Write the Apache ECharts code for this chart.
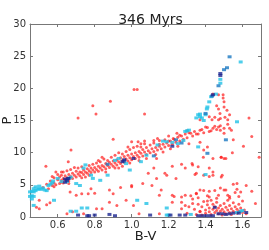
<!DOCTYPE html>
<html><head><meta charset="utf-8">
<script src="https://cdn.jsdelivr.net/npm/echarts@6/dist/echarts.min.js"></script>
<style>html,body{margin:0;padding:0;background:#fff}#c{width:269px;height:250px}</style>
</head><body><div id="c"></div>
<script>
const title = "346 Myrs";
const xTicks = [0.6, 0.8, 1.0, 1.2, 1.4, 1.6];
const yTicks = [0, 5, 10, 15, 20, 25, 30];

const redBand = [[0.52,4.6],[0.54,5.1],[0.55,4.4],[0.56,5.6],[0.57,4.9],[0.58,5.3],[0.58,6.1],[0.59,5.0],[0.60,5.8],[0.60,6.6],[0.61,5.2],[0.61,6.2],[0.62,5.7],[0.62,7.0],[0.63,6.0],[0.63,5.3],[0.64,6.4],[0.64,5.8],[0.65,6.1],[0.65,7.2],[0.66,5.6],[0.66,6.6],[0.67,6.3],[0.67,7.4],[0.68,6.0],[0.68,6.8],[0.69,6.5],[0.70,7.1],[0.70,6.2],[0.71,6.7],[0.71,7.6],[0.72,6.4],[0.72,7.0],[0.73,6.9],[0.73,7.8],[0.74,6.6],[0.74,7.3],[0.75,7.0],[0.75,6.2],[0.76,7.5],[0.76,6.8],[0.77,7.2],[0.77,8.0],[0.78,6.9],[0.78,7.6],[0.79,7.3],[0.79,8.2],[0.80,7.0],[0.80,7.7],[0.81,7.4],[0.81,8.4],[0.82,7.1],[0.82,7.9],[0.83,7.6],[0.83,8.6],[0.84,7.3],[0.84,8.0],[0.85,7.8],[0.85,9.0],[0.86,7.5],[0.86,8.3],[0.87,8.0],[0.87,8.8],[0.88,7.7],[0.88,8.5],[0.89,8.2],[0.89,9.3],[0.90,7.9],[0.90,8.7],[0.91,8.4],[0.91,9.6],[0.92,8.1],[0.92,8.9],[0.93,8.6],[0.93,7.6],[0.94,9.2],[0.94,8.3],[0.95,8.8],[0.95,9.8],[0.96,8.5],[0.96,9.4],[0.97,9.0],[0.97,10.2],[0.98,8.7],[0.98,9.6],[0.99,9.2],[0.99,10.5],[1.00,8.9],[1.00,9.8],[1.01,9.4],[1.01,10.8],[1.02,9.1],[1.02,10.0],[1.03,9.6],[1.03,11.0],[1.04,9.3],[1.04,10.2],[1.05,9.9],[1.05,10.9],[1.06,9.5],[1.06,10.5],[1.07,10.1],[1.08,9.7],[1.08,10.8],[1.09,10.3],[1.10,10.0],[1.10,11.2],[1.11,10.6],[1.12,10.2],[1.12,11.5],[1.13,10.8],[1.14,10.4],[1.15,11.0],[1.15,11.9],[1.16,10.6],[1.17,11.3],[1.18,10.9],[1.18,12.0],[1.19,11.5],[1.20,11.1],[1.21,11.8],[1.22,11.3],[1.23,12.1],[1.24,11.6],[1.25,12.4],[1.26,11.8],[1.27,12.6],[1.28,12.1],[1.29,12.9],[1.30,12.3],[1.31,13.1],[1.33,12.6],[1.34,13.3],[1.36,12.9],[1.38,13.6],[1.39,13.1],[1.41,13.9],[1.43,13.4],[1.45,14.1],[1.46,13.6],[1.48,14.2],[1.50,13.8],[1.52,14.4],[1.54,13.5],
[0.58,4.7],[0.62,6.5],[0.66,5.2],[0.69,7.7],[0.73,6.1],[0.77,6.5],[0.82,8.8],[0.86,7.0],[0.91,7.6],[0.95,7.9],[0.99,8.4],[1.04,8.8],[1.08,9.1],[1.13,9.7],[1.17,10.1],[1.21,10.6],[1.25,11.0],[1.07,11.4],[1.14,12.2],[1.20,12.6],[0.98,10.9],[0.93,10.0],[0.84,9.3]];
const redScatter = [[0.71,15.4],[0.79,17.3],[0.807,16.0],[0.885,18.0],[1.013,19.8],[1.03,19.8],[1.07,16.0],[1.635,15.4],
[1.44,19.1],[1.47,19.0],[1.495,19.0],[1.495,18.5],[1.50,17.9],[1.46,17.3],[1.50,17.1],[1.47,16.8],[1.516,16.6],[1.478,16.1],[1.53,15.9],[1.42,15.6],[1.45,15.5],[1.505,15.5],[1.37,15.1],[1.435,15.1],[1.47,15.1],[1.48,15.3],[1.52,15.1],
[0.536,7.9],[0.657,8.6],[0.672,10.4],[0.57,6.3],[0.59,7.0],[0.63,7.0],[0.62,5.4],[0.50,2.6],[0.50,1.3],[0.485,1.5],[0.558,2.2],[0.54,1.9],[0.667,3.9],[0.70,3.4],[0.73,3.6],[0.68,0.8],[0.65,0.5],[0.765,3.6],[0.80,3.7],[0.78,4.4],[0.88,4.2],[0.90,3.6],[0.94,4.6],[1.0,4.7],[1.0,4.9],
[0.90,12.1],[1.0,11.7],[1.035,11.7],[1.05,11.4],[1.07,11.8],[1.12,11.9],[1.15,11.3],[1.2,11.8],[1.225,12.2],[1.245,13.0],[1.26,12.7],[1.3,13.4],[1.32,13.0],[1.35,12.9],[1.37,13.5],[1.40,14.0],[1.42,13.3],[1.44,13.8],[1.47,14.0],[1.48,13.5],[1.5,13.0],[1.53,13.8],[1.55,12.0],[1.65,12.5],[1.605,11.0],[1.485,9.3],[1.51,9.1],[1.44,9.1],[1.39,10.4],[1.37,11.6],[1.31,11.4],[1.41,10.9],
[1.27,8.2],[1.29,7.6],[1.33,8.1],[1.35,6.8],[1.39,6.5],[1.42,7.6],[1.44,6.5],[1.485,6.2],[1.55,5.1],[1.57,5.2],[1.51,4.2],[1.18,6.8],[1.19,6.5],[1.24,6.0],[1.135,9.1],[1.12,7.6],[1.135,6.0],[1.09,6.8],[1.11,4.9],[1.06,5.2],[1.16,4.2],[1.15,3.4],[1.22,3.4],[1.22,2.3],[1.27,3.1],[1.29,3.4],[1.32,3.3],[1.35,3.6],[1.37,4.2],[1.41,2.5],[1.42,3.1],[1.47,3.4],[1.53,2.9],[1.59,3.9],[1.62,4.9],[1.67,2.1],[1.29,1.8],[1.27,1.3],[1.33,2.1],
[1.01,1.8],[0.97,2.6],[0.92,1.8],[0.88,2.3],[0.84,1.3],[0.81,1.3],[0.74,0.5],[1.04,0.5],[1.37,0.8],[1.15,0.5],
[1.388,9.3],[1.484,9.3],[1.50,9.1],[1.545,10.0],[1.22,7.9],[1.327,8.3],[1.36,7.8],[1.343,6.6],[1.44,7.0],[1.42,6.3],[1.49,6.5],[1.65,4.0],[1.69,9.3],[1.23,3.2],[1.35,3.7],[1.39,4.1],[1.45,4.1],[1.50,4.2],[1.57,4.3],[1.53,3.2],[1.58,3.2]];
const redLow = [[1.34,1.2],[1.35,0.4],[1.36,2.0],[1.37,0.9],[1.38,1.6],[1.38,0.3],[1.39,2.4],[1.40,1.1],[1.40,0.6],[1.41,1.9],[1.42,0.8],[1.42,1.4],[1.43,2.6],[1.43,0.4],[1.44,1.2],[1.44,2.0],[1.45,0.7],[1.45,1.6],[1.46,1.0],[1.46,2.3],[1.47,0.5],[1.47,1.4],[1.48,0.9],[1.48,1.8],[1.49,1.2],[1.49,0.3],[1.50,2.1],[1.50,0.8],[1.51,1.5],[1.51,0.5],[1.52,1.1],[1.52,2.6],[1.53,0.7],[1.53,1.8],[1.54,1.3],[1.54,0.4],[1.55,2.2],[1.55,0.9],[1.56,1.6],[1.57,0.6],[1.57,1.2],[1.58,2.0],[1.58,0.9],[1.59,1.4],[1.60,0.7],[1.60,2.5],[1.61,1.1],[1.62,0.5],[1.36,3.0],[1.41,3.3],[1.46,2.9],[1.52,3.4],[1.56,3.8],[1.48,4.5],[1.42,4.0],[1.33,2.8],[1.31,1.6],[1.30,0.6],[1.27,2.3]];

const cyanPts = [[0.45,3.2],[0.46,3.3],[0.47,3.2],[0.45,3.9],[0.46,4.0],[0.47,3.9],[0.48,4.1],[0.49,4.3],[0.50,4.4],[0.51,4.3],[0.52,4.5],[0.47,4.4],[0.48,4.7],[0.46,2.8],[0.47,1.8],[0.50,4.8],[0.53,4.2],[0.54,4.1],[0.55,4.9],[0.56,5.1],[0.57,5.3],[0.575,5.6],[0.58,2.6],[0.60,6.0],[0.62,5.5],[0.65,5.5],[0.67,6.2],[0.70,5.2],[0.72,4.9],[0.74,7.6],[0.75,8.1],[0.78,6.5],[0.79,6.0],[0.83,5.7],[0.87,6.5],[0.91,8.8],[0.93,9.1],[0.97,8.3],[0.99,7.3],[1.05,8.6],[1.08,9.6],[1.14,11.2],[1.17,11.8],[1.19,11.7],[1.22,11.6],[1.25,11.4],[1.28,11.9],[1.29,13.3],[1.30,13.4],[1.31,13.5],[1.36,10.9],[1.03,2.6],[1.08,2.1],[1.19,1.4],[0.73,1.4],[0.76,1.4],[0.67,0.9],[0.70,0.9],[1.19,0.3],[1.20,0.3],[1.32,0.4],[1.57,0.7],[1.59,0.9],[1.60,1.0],[1.40,6.6],
[1.35,15.4],[1.36,15.9],[1.37,15.6],[1.38,15.4],[1.39,15.0],[1.37,16.0],[1.40,15.9],[1.407,16.8],[1.41,17.1],[1.42,17.9],[1.456,19.1],[1.43,18.7],[1.48,21.4],[1.48,20.8],[1.59,24.1],[1.57,14.8]];
const bluePts = [[1.53,24.9],[1.516,23.2],[1.50,22.9],[1.47,20.4],[1.435,18.8],[1.40,16.1],[1.51,12.0],[1.24,12.0],[0.66,6.0],[0.87,8.2],[0.96,8.7],[1.12,9.5],[1.41,9.9],[1.27,11.5]];
const navyPts = [[1.48,22.3],[1.48,22.0],[1.44,19.0],[0.65,5.7],[0.657,6.0],[0.64,5.4],[0.71,0.3],[0.76,0.2],[0.77,0.2],[0.80,0.3],[0.88,0.4],[0.91,0.2],[0.95,8.6],[0.96,8.9],[1.01,9.1],[1.10,0.3],[1.21,0.3],[1.26,0.3],[1.29,0.3],[1.36,0.2],[1.38,0.2],[1.40,0.2],[1.42,0.2],[1.44,0.2],[1.47,0.5],[1.49,0.5],[1.51,0.4],[1.53,0.5],[1.55,0.6],[1.58,0.6],[1.62,0.7],[0.64,5.9],[1.22,11.0],[1.45,1.5]];

const font = 'DejaVu Sans';
const chart = echarts.init(document.getElementById('c'), null, {renderer: 'canvas'});
const xBase = {type:'value', min:0.45, max:1.7, splitLine:{show:false},
  axisLine:{show:true, onZero:false, lineStyle:{color:'#777', width:1}},
  axisTick:{show:true, inside:true, length:3, lineStyle:{color:'#777'}, customValues:xTicks}};
const yBase = {type:'value', min:0, max:30, interval:5, splitLine:{show:false},
  axisLine:{show:true, onZero:false, lineStyle:{color:'#777', width:1}},
  axisTick:{show:true, inside:true, length:3, lineStyle:{color:'#777'}}};
const red = 'rgba(255,20,20,0.85)';
chart.setOption({
  animation:false,
  title:{text:title, left:145.5, textAlign:'center', top:8, textStyle:{fontFamily:font, fontSize:14, fontWeight:'normal', color:'#222'}},
  grid:{left:30, right:8, top:24, bottom:33, show:false, outerBoundsMode:'none', containLabel:false},
  xAxis:[
    Object.assign({}, xBase, {position:'bottom', name:'B-V', nameLocation:'middle', nameGap:13, nameMoveOverlap:false,
      nameTextStyle:{fontFamily:font, fontSize:13, color:'#222', verticalAlign:'top'},
      axisLabel:{show:true, customValues:xTicks, formatter:v=>v.toFixed(1), fontFamily:font, fontSize:10, color:'#333', margin:3}}),
    Object.assign({}, xBase, {position:'top', axisLabel:{show:false}})
  ],
  yAxis:[
    Object.assign({}, yBase, {position:'left', name:'P', nameLocation:'middle', nameGap:16, nameMoveOverlap:false,
      nameTextStyle:{fontFamily:font, fontSize:13, color:'#222', verticalAlign:'bottom'},
      axisLabel:{fontFamily:font, fontSize:10, color:'#333', margin:4}}),
    Object.assign({}, yBase, {position:'right', axisLabel:{show:false}})
  ],
  series:[
    {type:'scatter', data:redBand, symbol:'circle', symbolSize:3, itemStyle:{color:red}},
    {type:'scatter', data:redScatter, symbol:'circle', symbolSize:3, itemStyle:{color:red}},
    {type:'scatter', data:redLow, symbol:'circle', symbolSize:3, itemStyle:{color:red}},
    {type:'scatter', data:cyanPts, symbol:'rect', symbolSize:[4,3], itemStyle:{color:'#22c2e6'}},
    {type:'scatter', data:bluePts, symbol:'rect', symbolSize:[4,3], itemStyle:{color:'#1a78c2'}},
    {type:'scatter', data:navyPts, symbol:'rect', symbolSize:[4,3], itemStyle:{color:'#1b2590'}}
  ]
});
</script></body></html>
